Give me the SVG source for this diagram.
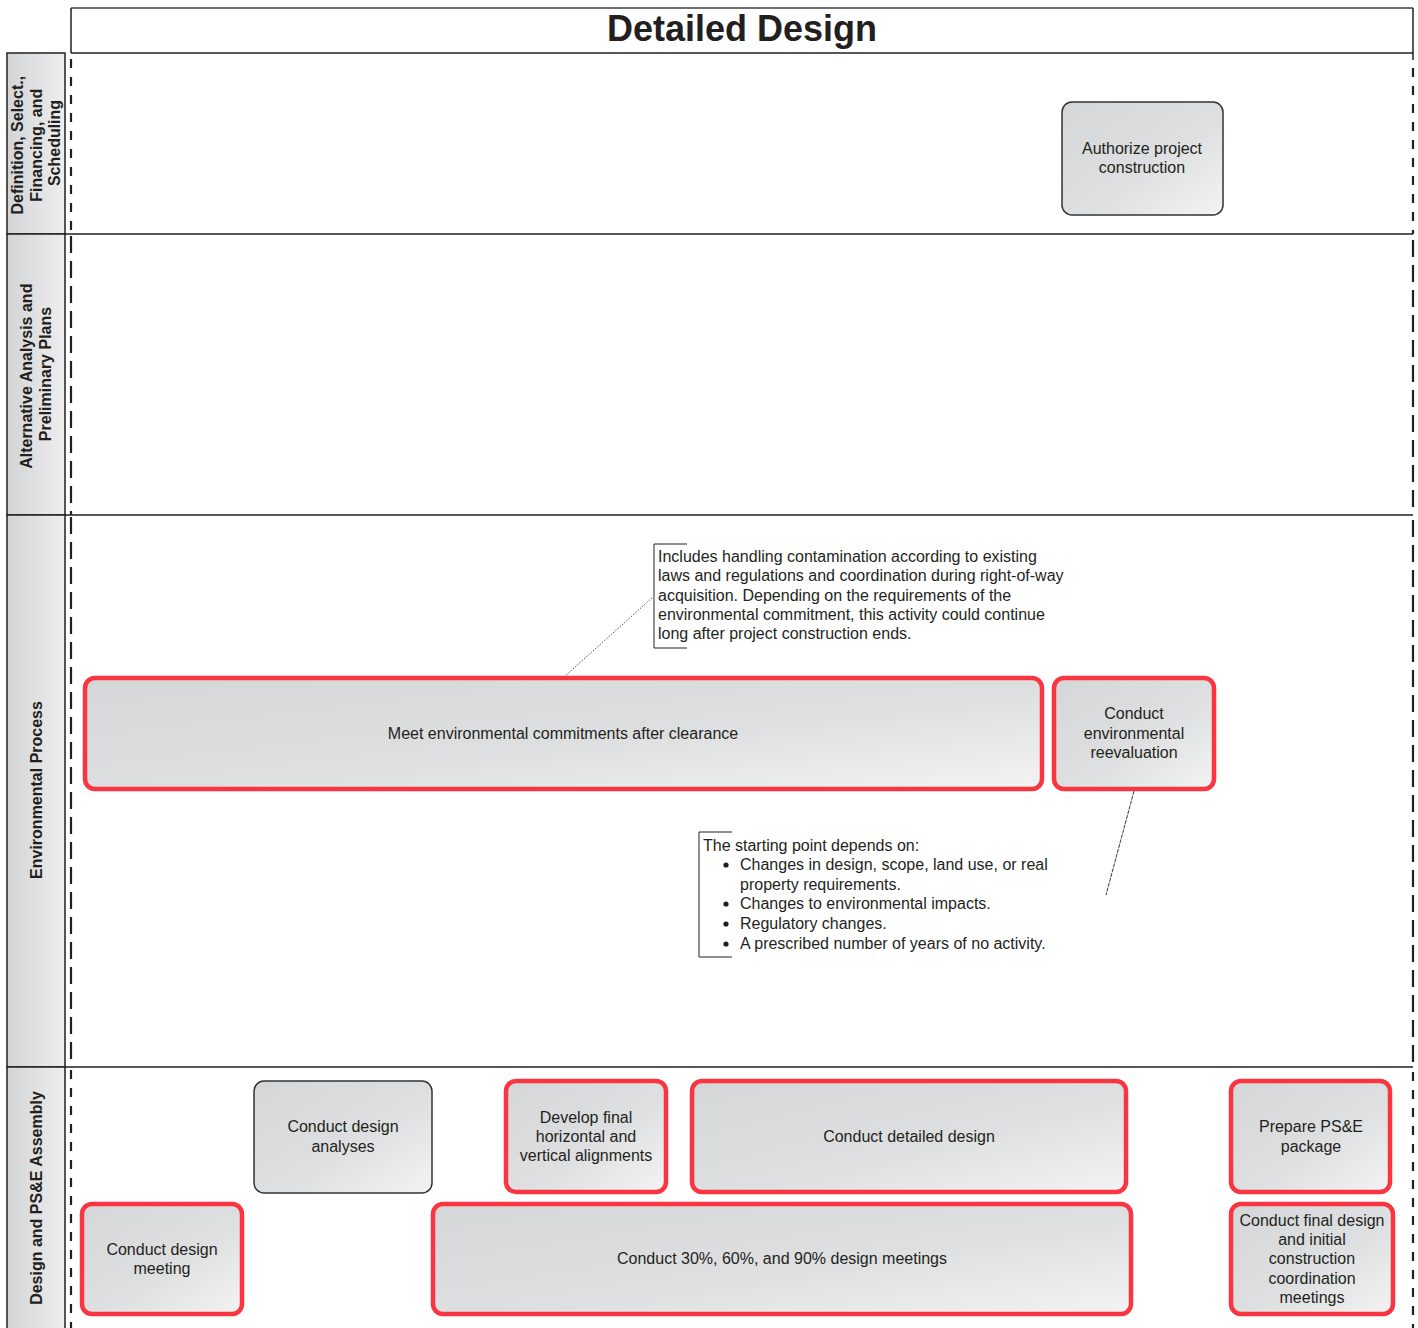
<svg xmlns="http://www.w3.org/2000/svg" width="1418" height="1328" viewBox="0 0 1418 1328">
  <defs>
    <linearGradient id="hdrFill" x1="0" y1="0" x2="1" y2="0">
      <stop offset="0" stop-color="#d3d4d6"/>
      <stop offset="1" stop-color="#eeeeef"/>
    </linearGradient>
    <linearGradient id="nodeFill" x1="0" y1="0" x2="1" y2="1">
      <stop offset="0" stop-color="#d5d6d8"/>
      <stop offset="0.55" stop-color="#dedfe0"/>
      <stop offset="1" stop-color="#f3f3f3"/>
    </linearGradient>
    <style>
      .title { font-family: "Liberation Sans", Arial, sans-serif; font-size: 36px; font-weight: bold; fill: #231f20; }
      .hdr { font-family: "Liberation Sans", Arial, sans-serif; font-size: 16px; font-weight: bold; fill: #231f20; }
      .lbl { font-family: "Liberation Sans", Arial, sans-serif; font-size: 16px; fill: #231f20; text-anchor: middle; }
      .note { font-family: "Liberation Sans", Arial, sans-serif; font-size: 16px; fill: #231f20; }
      .frame { fill: none; stroke: #231f20; stroke-width: 1.5; }
      .dash-s { fill: none; stroke: #231f20; stroke-width: 2.2; stroke-dasharray: 9 9; }
      .dash-l { fill: none; stroke: #231f20; stroke-width: 2.2; stroke-dasharray: 17 8; }
      .hdrbox { fill: url(#hdrFill); stroke: #231f20; stroke-width: 1.5; }
      .task { fill: url(#nodeFill); stroke: #333333; stroke-width: 1.5; }
      .key { fill: url(#nodeFill); stroke: #f93542; stroke-width: 4.5; }
      .bracket { fill: none; stroke: #231f20; stroke-width: 1; }
    </style>
  </defs>

  <rect width="1418" height="1328" fill="#ffffff"/>

  <!-- phase title band -->
  <g id="phase-title">
    <line x1="71" y1="8" x2="1413" y2="8" stroke="#6d6e71" stroke-width="2"/>
    <line x1="71" y1="8" x2="71" y2="53" class="frame"/>
    <line x1="1413" y1="8" x2="1413" y2="60" class="frame"/>
    <line x1="71" y1="53" x2="1413" y2="53" class="frame"/>
    <text class="title" x="742" y="41" text-anchor="middle">Detailed Design</text>
  </g>

  <!-- swimlane headers -->
  <g id="lane-headers">
    <rect class="hdrbox" x="7" y="53" width="58" height="181"/>
    <rect class="hdrbox" x="7" y="234" width="58" height="281"/>
    <rect class="hdrbox" x="7" y="515" width="58" height="552"/>
    <rect class="hdrbox" x="7" y="1067" width="58" height="270"/>
    <text class="hdr" transform="translate(0 143) rotate(-90)" text-anchor="middle">
      <tspan x="0" y="23">Definition, Select.,</tspan>
      <tspan x="0" y="41.5">Financing, and</tspan>
      <tspan x="0" y="60">Scheduling</tspan>
    </text>
    <text class="hdr" transform="translate(0 374) rotate(-90)" text-anchor="middle">
      <tspan x="0" y="32">Alternative Analysis and</tspan>
      <tspan x="0" y="51">Preliminary Plans</tspan>
    </text>
    <text class="hdr" transform="translate(0 790) rotate(-90)" text-anchor="middle">
      <tspan x="0" y="42">Environmental Process</tspan>
    </text>
    <text class="hdr" transform="translate(0 1198) rotate(-90)" text-anchor="middle">
      <tspan x="0" y="42">Design and PS&amp;E Assembly</tspan>
    </text>
  </g>

  <!-- lane dividers and dashed phase bounds -->
  <g id="lanes">
    <line x1="65" y1="234" x2="1413" y2="234" class="frame"/>
    <line x1="65" y1="515" x2="1413" y2="515" class="frame"/>
    <line x1="65" y1="1067" x2="1413" y2="1067" class="frame"/>
    <line x1="71" y1="59" x2="71" y2="234" class="dash-s"/>
    <line x1="71" y1="236" x2="71" y2="515" class="dash-l"/>
    <line x1="71" y1="517" x2="71" y2="1067" class="dash-l"/>
    <line x1="71" y1="1070" x2="71" y2="1328" class="dash-s"/>
    <line x1="1413" y1="68" x2="1413" y2="234" class="dash-s"/>
    <line x1="1413" y1="240" x2="1413" y2="515" class="dash-l"/>
    <line x1="1413" y1="520" x2="1413" y2="1067" class="dash-l"/>
    <line x1="1413" y1="1072" x2="1413" y2="1328" class="dash-s"/>
  </g>

  <!-- annotation leaders -->
  <g id="connectors">
    <line x1="564" y1="677" x2="653" y2="597" stroke="#231f20" stroke-width="0.8" stroke-dasharray="1.5 1.5"/>
    <line x1="1134" y1="791" x2="1106" y2="895" stroke="#231f20" stroke-width="0.9" stroke-dasharray="4 1"/>
  </g>

  <!-- Definition, Select., Financing, and Scheduling -->
  <g id="authorize-construction">
    <rect class="task" x="1062" y="102" width="161" height="113" rx="10"/>
    <text class="lbl"><tspan x="1142" y="154">Authorize project</tspan><tspan x="1142" y="173">construction</tspan></text>
  </g>

  <!-- Environmental Process -->
  <g id="env-commitments">
    <rect class="key" x="85" y="678" width="957" height="111" rx="10"/>
    <text class="lbl" x="563" y="739">Meet environmental commitments after clearance</text>
  </g>
  <g id="env-reevaluation">
    <rect class="key" x="1054" y="678" width="160" height="111" rx="10"/>
    <text class="lbl"><tspan x="1134" y="719">Conduct</tspan><tspan x="1134" y="739">environmental</tspan><tspan x="1134" y="758">reevaluation</tspan></text>
  </g>
  <g id="note-commitments">
    <path class="bracket" d="M687 544 H654 V648 H687"/>
    <text class="note">
      <tspan x="658" y="562">Includes handling contamination according to existing</tspan>
      <tspan x="658" y="581">laws and regulations and coordination during right-of-way</tspan>
      <tspan x="658" y="601">acquisition. Depending on the requirements of the</tspan>
      <tspan x="658" y="620">environmental commitment, this activity could continue</tspan>
      <tspan x="658" y="639">long after project construction ends.</tspan>
    </text>
  </g>
  <g id="note-reevaluation">
    <path class="bracket" d="M732 832 H699 V957 H732"/>
    <text class="note">
      <tspan x="703" y="851">The starting point depends on:</tspan>
      <tspan x="740" y="870">Changes in design, scope, land use, or real</tspan>
      <tspan x="740" y="890">property requirements.</tspan>
      <tspan x="740" y="909">Changes to environmental impacts.</tspan>
      <tspan x="740" y="929">Regulatory changes.</tspan>
      <tspan x="740" y="949">A prescribed number of years of no activity.</tspan>
    </text>
    <g fill="#231f20">
      <circle cx="726" cy="865" r="2.6"/>
      <circle cx="726" cy="904" r="2.6"/>
      <circle cx="726" cy="924" r="2.6"/>
      <circle cx="726" cy="944" r="2.6"/>
    </g>
  </g>

  <!-- Design and PS&E Assembly -->
  <g id="design-analyses">
    <rect class="task" x="254" y="1081" width="178" height="112" rx="10"/>
    <text class="lbl"><tspan x="343" y="1132">Conduct design</tspan><tspan x="343" y="1152">analyses</tspan></text>
  </g>
  <g id="final-alignments">
    <rect class="key" x="506" y="1081" width="160" height="111" rx="10"/>
    <text class="lbl"><tspan x="586" y="1123">Develop final</tspan><tspan x="586" y="1142">horizontal and</tspan><tspan x="586" y="1161">vertical alignments</tspan></text>
  </g>
  <g id="detailed-design">
    <rect class="key" x="692" y="1081" width="434" height="111" rx="10"/>
    <text class="lbl" x="909" y="1142">Conduct detailed design</text>
  </g>
  <g id="pse-package">
    <rect class="key" x="1231" y="1081" width="159" height="111" rx="10"/>
    <text class="lbl"><tspan x="1311" y="1132">Prepare PS&amp;E</tspan><tspan x="1311" y="1152">package</tspan></text>
  </g>
  <g id="design-meeting">
    <rect class="key" x="82" y="1204" width="160" height="110" rx="10"/>
    <text class="lbl"><tspan x="162" y="1255">Conduct design</tspan><tspan x="162" y="1274">meeting</tspan></text>
  </g>
  <g id="milestone-meetings">
    <rect class="key" x="433" y="1204" width="698" height="110" rx="10"/>
    <text class="lbl" x="782" y="1264">Conduct 30%, 60%, and 90% design meetings</text>
  </g>
  <g id="final-coordination">
    <rect class="key" x="1231" y="1204" width="162" height="110" rx="10"/>
    <text class="lbl"><tspan x="1312" y="1226">Conduct final design</tspan><tspan x="1312" y="1245">and initial</tspan><tspan x="1312" y="1264">construction</tspan><tspan x="1312" y="1284">coordination</tspan><tspan x="1312" y="1303">meetings</tspan></text>
  </g>
</svg>
